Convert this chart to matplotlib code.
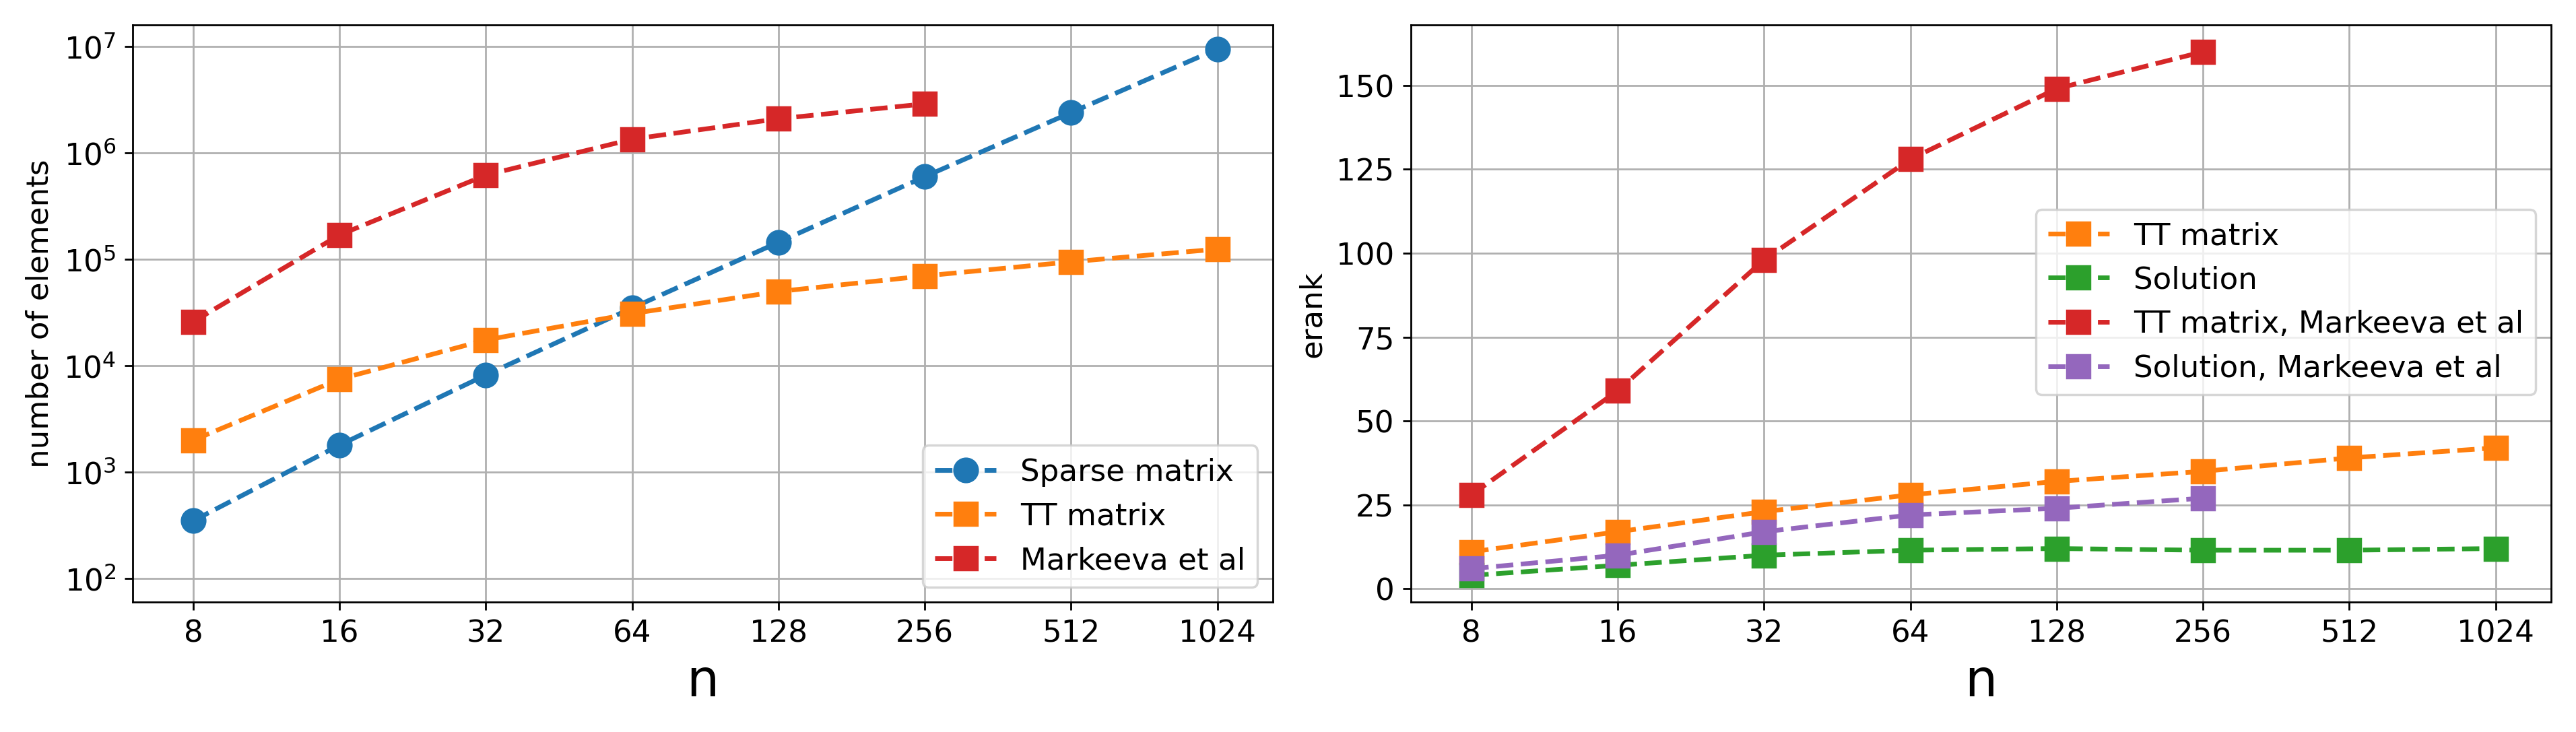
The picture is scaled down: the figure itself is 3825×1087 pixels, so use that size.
import numpy as np
import matplotlib
matplotlib.use("Agg")
import matplotlib.pyplot as plt

n = [8, 16, 32, 64, 128, 256, 512, 1024]
n_mk = n[:6]

# left panel: number of elements
sparse_elems = [350, 1800, 8200, 35000, 145000, 600000, 2.4e6, 9.5e6]
tt_elems = [2000, 7500, 17500, 31000, 50000, 70000, 95000, 125000]
mk_elems = [26000, 170000, 620000, 1.35e6, 2.1e6, 2.9e6]

# right panel: erank
tt_erank = [11, 17, 23, 28, 32, 35, 39, 42]
sol_erank = [4, 7, 10, 11.5, 12, 11.5, 11.5, 12]
mk_tt_erank = [28, 59, 98, 128, 149, 160]
mk_sol_erank = [6, 10, 17, 22, 24, 27]

fig, axs = plt.subplots(1, 2, figsize=(15.3, 4.35), dpi=250)

ax = axs[0]
ax.plot(n, sparse_elems, "--o", color="C0", ms=10, lw=2, label="Sparse matrix")
ax.plot(n, tt_elems, "--s", color="C1", ms=10, lw=2, label="TT matrix")
ax.plot(n_mk, mk_elems, "--s", color="C3", ms=10, lw=2, label="Markeeva et al")
ax.set_yscale("log")
ax.set_ylim(6e1, 1.6e7)
ax.set_ylabel("number of elements", fontsize=13)
ax.legend(loc="lower right", fontsize=13)

ax = axs[1]
ax.plot(n, tt_erank, "--s", color="C1", ms=10, lw=2, label="TT matrix")
ax.plot(n, sol_erank, "--s", color="C2", ms=10, lw=2, label="Solution")
ax.plot(n_mk, mk_tt_erank, "--s", color="C3", ms=10, lw=2, label="TT matrix, Markeeva et al")
ax.plot(n_mk, mk_sol_erank, "--s", color="C4", ms=10, lw=2, label="Solution, Markeeva et al")
ax.set_ylim(-4, 168)
ax.set_yticks([0, 25, 50, 75, 100, 125, 150])
ax.set_ylabel("erank", fontsize=13)
ax.legend(loc="center right", bbox_to_anchor=(1.0, 0.52), fontsize=13)

for ax in axs:
    ax.set_xscale("log", base=2)
    ax.set_xticks(n)
    ax.set_xticklabels([str(v) for v in n])
    ax.minorticks_off()
    ax.set_xlim(6.0, 1330)
    ax.set_xlabel("n", fontsize=22)
    ax.tick_params(labelsize=13)
    ax.grid(True)

fig.tight_layout()
fig.savefig("out.png")
